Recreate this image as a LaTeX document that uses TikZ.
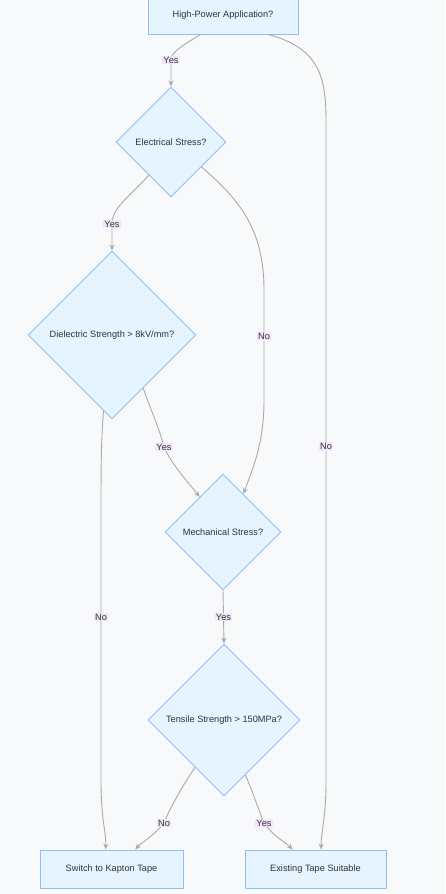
\documentclass[tikz,border=0pt]{standalone}
\usepackage{fontspec}
\setmainfont{Liberation Sans}
\usetikzlibrary{shapes.geometric,arrows.meta,calc}
\definecolor{bgc}{HTML}{F8F9FB}
\definecolor{nodefill}{HTML}{E6F4FF}
\definecolor{nodedraw}{HTML}{92BEF8}
\definecolor{edgec}{HTML}{AAAAAA}
\definecolor{lblfill}{HTML}{F1E6FA}
\definecolor{txt}{HTML}{333333}
\tikzset{
  base/.style={fill=nodefill,draw=nodedraw,line width=0.9pt,text=txt,font=\fontsize{9.2}{11}\selectfont,inner sep=0pt},
  boxnode/.style={base,rectangle,minimum height=38pt},
  decision/.style={base,diamond,aspect=1},
  conn/.style={draw=edgec,line width=0.9pt,-{Stealth[length=6pt,width=5pt]}},
  lbl/.style={fill=lblfill,text=txt,font=\fontsize{9.2}{11}\selectfont,inner sep=1pt}
}
\begin{document}
\begin{tikzpicture}[x=1pt,y=-1pt]
\fill[bgc] (0,0) rectangle (445,894);
\useasboundingbox (0,0) rectangle (445,894);

\node[boxnode,minimum width=150pt] (top) at (223,15) {High-Power Application?};
\node[decision,minimum width=110pt,minimum height=110pt] (el) at (171,142) {Electrical Stress?};
\node[decision,minimum width=168pt,minimum height=168pt] (di) at (112,335) {Dielectric Strength > 8kV/mm?};
\node[decision,minimum width=116pt,minimum height=116pt] (me) at (223,532) {Mechanical Stress?};
\node[decision,minimum width=152pt,minimum height=152pt] (te) at (224,720) {Tensile Strength > 150MPa?};
\node[boxnode,minimum width=143pt] (sw) at (111.5,869) {Switch to Kapton Tape};
\node[boxnode,minimum width=141pt] (ex) at (315.5,869) {Existing Tape Suitable};

% top -> electrical
\draw[conn] ($(top.south west)!0.35!(top.south east)$) .. controls (182,46) and (171,52) .. (171,60)
  node[lbl] (l1) {Yes} -- (el.north);
% top -> existing
\draw[conn] ($(top.south west)!0.8!(top.south east)$) .. controls (318,48) and (326,75) .. (326,120)
  -- node[lbl,pos=0.495] (l2) {No} (326,780) .. controls (326,820) and (321,830) .. ($(ex.north west)!0.54!(ex.north east)$);
% electrical -> dielectric
\draw[conn] ($(el.west)!0.6!(el.south)$) .. controls (128,198) and (112,208) .. (112,224)
  node[lbl] (l3) {Yes} -- (di.north);
% electrical -> mechanical
\draw[conn] ($(el.east)!0.45!(el.south)$) .. controls (240,200) and (264,230) .. (264,290)
  -- node[lbl,pos=0.42] (l4) {No} (264,400) .. controls (264,445) and (252,470) .. ($(me.north)!0.35!(me.east)$);
% dielectric -> mechanical
\draw[conn] ($(di.east)!0.63!(di.south)$) .. controls (150,408) and (160,430) .. (164,447)
  node[lbl] (l5) {Yes} .. controls (172,465) and (188,482) .. ($(me.north)!0.4!(me.west)$);
% dielectric -> switch
\draw[conn] ($(di.west)!0.9!(di.south)$) .. controls (101,440) and (101,470) .. (101,520)
  -- node[lbl,pos=0.373] (l6) {No} (101,780) .. controls (101,820) and (106,830) .. ($(sw.north west)!0.46!(sw.north east)$);
% mechanical -> tensile
\draw[conn] (me.south) -- node[lbl] (l7) {Yes} (te.north);
% tensile -> switch
\draw[conn] ($(te.west)!0.62!(te.south)$) .. controls (180,790) and (170,808) .. (164,823)
  node[lbl] (l8) {No} .. controls (155,835) and (142,842) .. ($(sw.north west)!0.665!(sw.north east)$);
% tensile -> existing
\draw[conn] ($(te.east)!0.72!(te.south)$) .. controls (252,790) and (258,808) .. (264,823)
  node[lbl] (l9) {Yes} .. controls (272,835) and (285,842) .. ($(ex.north west)!0.34!(ex.north east)$);
\end{tikzpicture}
\end{document}
